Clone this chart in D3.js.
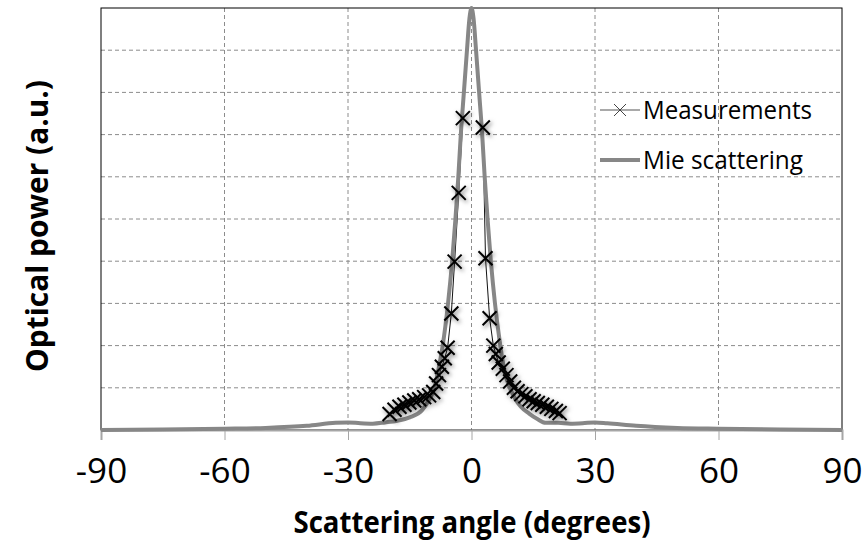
<!DOCTYPE html>
<html>
<head>
<meta charset="utf-8">
<script src="https://cdn.jsdelivr.net/npm/d3@7/dist/d3.min.js"></script>
<style>
body { margin: 0; background: #fff; }
text { font-family: "Open Sans", sans-serif; fill: #000; }
</style>
</head>
<body>
<svg id="canvas" width="862" height="554"></svg>
<script>
// Mie scattering curve (angle in degrees, power in a.u.)
let mieAngles = [-90, -75, -60, -50, -40, -33, -30, -27, -24, -21, -18, -15, -12, -10.5, -9, -8, -7, -5.7, -4.7, -3.9, -3.2, -2.6, -1.85, -1.1, -0.5, 0,
                 0.5, 1.1, 1.85, 2.6, 3.2, 3.9, 4.7, 5.7, 7, 8, 9.3, 10.5, 12, 14, 16, 18, 21, 24, 27, 30, 33, 40, 50, 60, 75, 90]
let mieValues = [0, 0.01, 0.03, 0.05, 0.1, 0.17, 0.18, 0.16, 0.15, 0.18, 0.22, 0.3, 0.47, 0.68, 1.0, 1.45, 2.0, 3, 4, 5, 6, 7, 8, 9, 9.75, 10,
                 9.75, 9, 8, 7, 6, 5, 4, 3, 2, 1.4, 1.0, 0.76, 0.55, 0.39, 0.26, 0.17, 0.17, 0.15, 0.16, 0.18, 0.16, 0.1, 0.05, 0.03, 0.01, 0]

// measurements, null = no reading (gap at the centre)
let measAngles = [-19.9, -18.7, -17.5, -16.3, -15.1, -13.9, -12.7, -11.5, -10.3, -9.3, -8.6, -7.9, -7.2, -6.5, -5.8, -4.9, -4.1, -3.1, -2.1,
                  0,
                  2.75, 3.4, 4.4, 5.3, 5.9, 6.6, 7.6, 8.5, 9.4, 10.3, 11.2, 12.1, 13.1, 14.1, 15.1, 16.1, 17.2, 18.3, 19.4, 20.5, 21.4]
let measValues = [0.38, 0.48, 0.55, 0.6, 0.65, 0.7, 0.73, 0.78, 0.82, 0.9, 1.1, 1.3, 1.5, 1.7, 1.95, 2.76, 3.99, 5.62, 7.39,
                  null,
                  7.17, 4.07, 2.65, 2.0, 1.8, 1.6, 1.45, 1.3, 1.15, 1.0, 0.92, 0.85, 0.8, 0.73, 0.68, 0.64, 0.6, 0.55, 0.5, 0.45, 0.4]

let xTicks = [-90, -60, -30, 0, 30, 60, 90]
let yGrid = [1, 2, 3, 4, 5, 6, 7, 8, 9]
let seriesNames = ['Measurements', 'Mie scattering']

let plotLeft = 101, plotRight = 842, plotTop = 8, plotBottom = 430

let svg = d3.select('#canvas')

let defs = svg.append('defs')
defs.append('filter')
    .attr('id', 'shadow')
    .attr('x', '-50%').attr('y', '-50%')
    .attr('width', '200%').attr('height', '200%')
    .append('feDropShadow')
    .attr('dx', 1.5).attr('dy', 2)
    .attr('stdDeviation', 2.2)
    .attr('flood-color', '#000')
    .attr('flood-opacity', 0.55)

let xScale = d3.scaleLinear().domain([-90, 90]).range([plotLeft, plotRight])
let yScale = d3.scaleLinear().domain([0, 10]).range([plotBottom, plotTop])

// grid
svg.append('g')
   .selectAll('line')
   .data(yGrid)
   .enter()
   .append('line')
   .attr('x1', plotLeft).attr('x2', plotRight)
   .attr('y1', d => yScale(d)).attr('y2', d => yScale(d))
   .attr('stroke', '#8c8c8c')
   .attr('stroke-dasharray', '4,3')

svg.append('g')
   .selectAll('line')
   .data(xTicks.slice(1, -1))
   .enter()
   .append('line')
   .attr('x1', d => xScale(d)).attr('x2', d => xScale(d))
   .attr('y1', plotTop).attr('y2', plotBottom)
   .attr('stroke', '#8c8c8c')
   .attr('stroke-dasharray', '4,3')

// plot frame
svg.append('rect')
   .attr('x', plotLeft).attr('y', plotTop)
   .attr('width', plotRight - plotLeft).attr('height', plotBottom - plotTop)
   .attr('fill', 'none')
   .attr('stroke', '#000')
   .attr('stroke-width', 1)

// x axis
let xAxis = d3.axisBottom(xScale)
              .tickValues(xTicks)
              .tickSize(10)
              .tickPadding(6)
              .tickFormat(d3.format('d'))

let gx = svg.append('g')
            .attr('transform', `translate(0,${plotBottom})`)
            .call(xAxis)
gx.select('.domain').attr('stroke', '#a6a6a6').attr('stroke-width', 2)
gx.selectAll('.tick line').attr('stroke', '#a6a6a6')
gx.selectAll('.tick text')
  .attr('font-family', '"Open Sans", sans-serif')
  .attr('font-size', 35)
  .attr('dy', null)
  .attr('y', 53)
  .text(d => d < 0 ? '-' + Math.abs(d) : d)

// measurement series
let measData = measAngles.map((a, i) => ({ angle: a, value: measValues[i] }))
let mieData = mieAngles.map((a, i) => ({ angle: a, value: mieValues[i] }))

let measLine = d3.line()
                 .defined(d => d.value !== null)
                 .x(d => xScale(d.angle))
                 .y(d => yScale(d.value))

svg.append('path')
   .datum(measData)
   .attr('d', measLine)
   .attr('fill', 'none')
   .attr('stroke', '#111')
   .attr('stroke-width', 1)

let mieLine = d3.line()
                .x(d => xScale(d.angle))
                .y(d => yScale(d.value))
                .curve(d3.curveMonotoneX)

svg.append('path')
   .datum(mieData)
   .attr('d', mieLine)
   .attr('fill', 'none')
   .attr('stroke', '#878787')
   .attr('stroke-width', 4)
   .attr('stroke-linejoin', 'round')

let cross = (s) => `M${-s},${-s}L${s},${s}M${-s},${s}L${s},${-s}`

svg.append('g')
   .style('filter', 'url(#shadow)')
   .selectAll('path')
   .data(measData.filter(d => d.value !== null))
   .enter()
   .append('path')
   .attr('transform', d => `translate(${xScale(d.angle)},${yScale(d.value)})`)
   .attr('d', cross(7))
   .attr('stroke', '#000')
   .attr('stroke-width', 2)

// legend
let legend = svg.append('g')
legend.append('line')
      .attr('x1', 600).attr('x2', 640).attr('y1', 110).attr('y2', 110)
      .attr('stroke', '#555').attr('stroke-width', 1.2)
legend.append('path')
      .attr('transform', 'translate(620,110)')
      .attr('d', cross(6))
      .attr('stroke', '#444').attr('stroke-width', 1)
legend.append('line')
      .attr('x1', 600).attr('x2', 640).attr('y1', 160).attr('y2', 160)
      .attr('stroke', '#878787').attr('stroke-width', 4)
legend.selectAll('text')
      .data(seriesNames)
      .enter()
      .append('text')
      .attr('x', 643)
      .attr('y', (d, i) => 119 + i * 50)
      .attr('font-size', 25)
      .attr('textLength', (d, i) => i === 0 ? 169 : 160)
      .attr('lengthAdjust', 'spacingAndGlyphs')
      .text(d => d)

// axis titles
svg.append('text')
   .attr('x', 472).attr('y', 533)
   .attr('text-anchor', 'middle')
   .attr('font-size', 30)
   .attr('font-weight', 'bold')
   .attr('textLength', 357)
   .attr('lengthAdjust', 'spacingAndGlyphs')
   .text('Scattering angle (degrees)')

svg.append('text')
   .attr('transform', 'translate(48,226) rotate(-90)')
   .attr('text-anchor', 'middle')
   .attr('font-size', 31)
   .attr('font-weight', 'bold')
   .attr('textLength', 292)
   .attr('lengthAdjust', 'spacingAndGlyphs')
   .text('Optical power (a.u.)')
</script>
</body>
</html>
